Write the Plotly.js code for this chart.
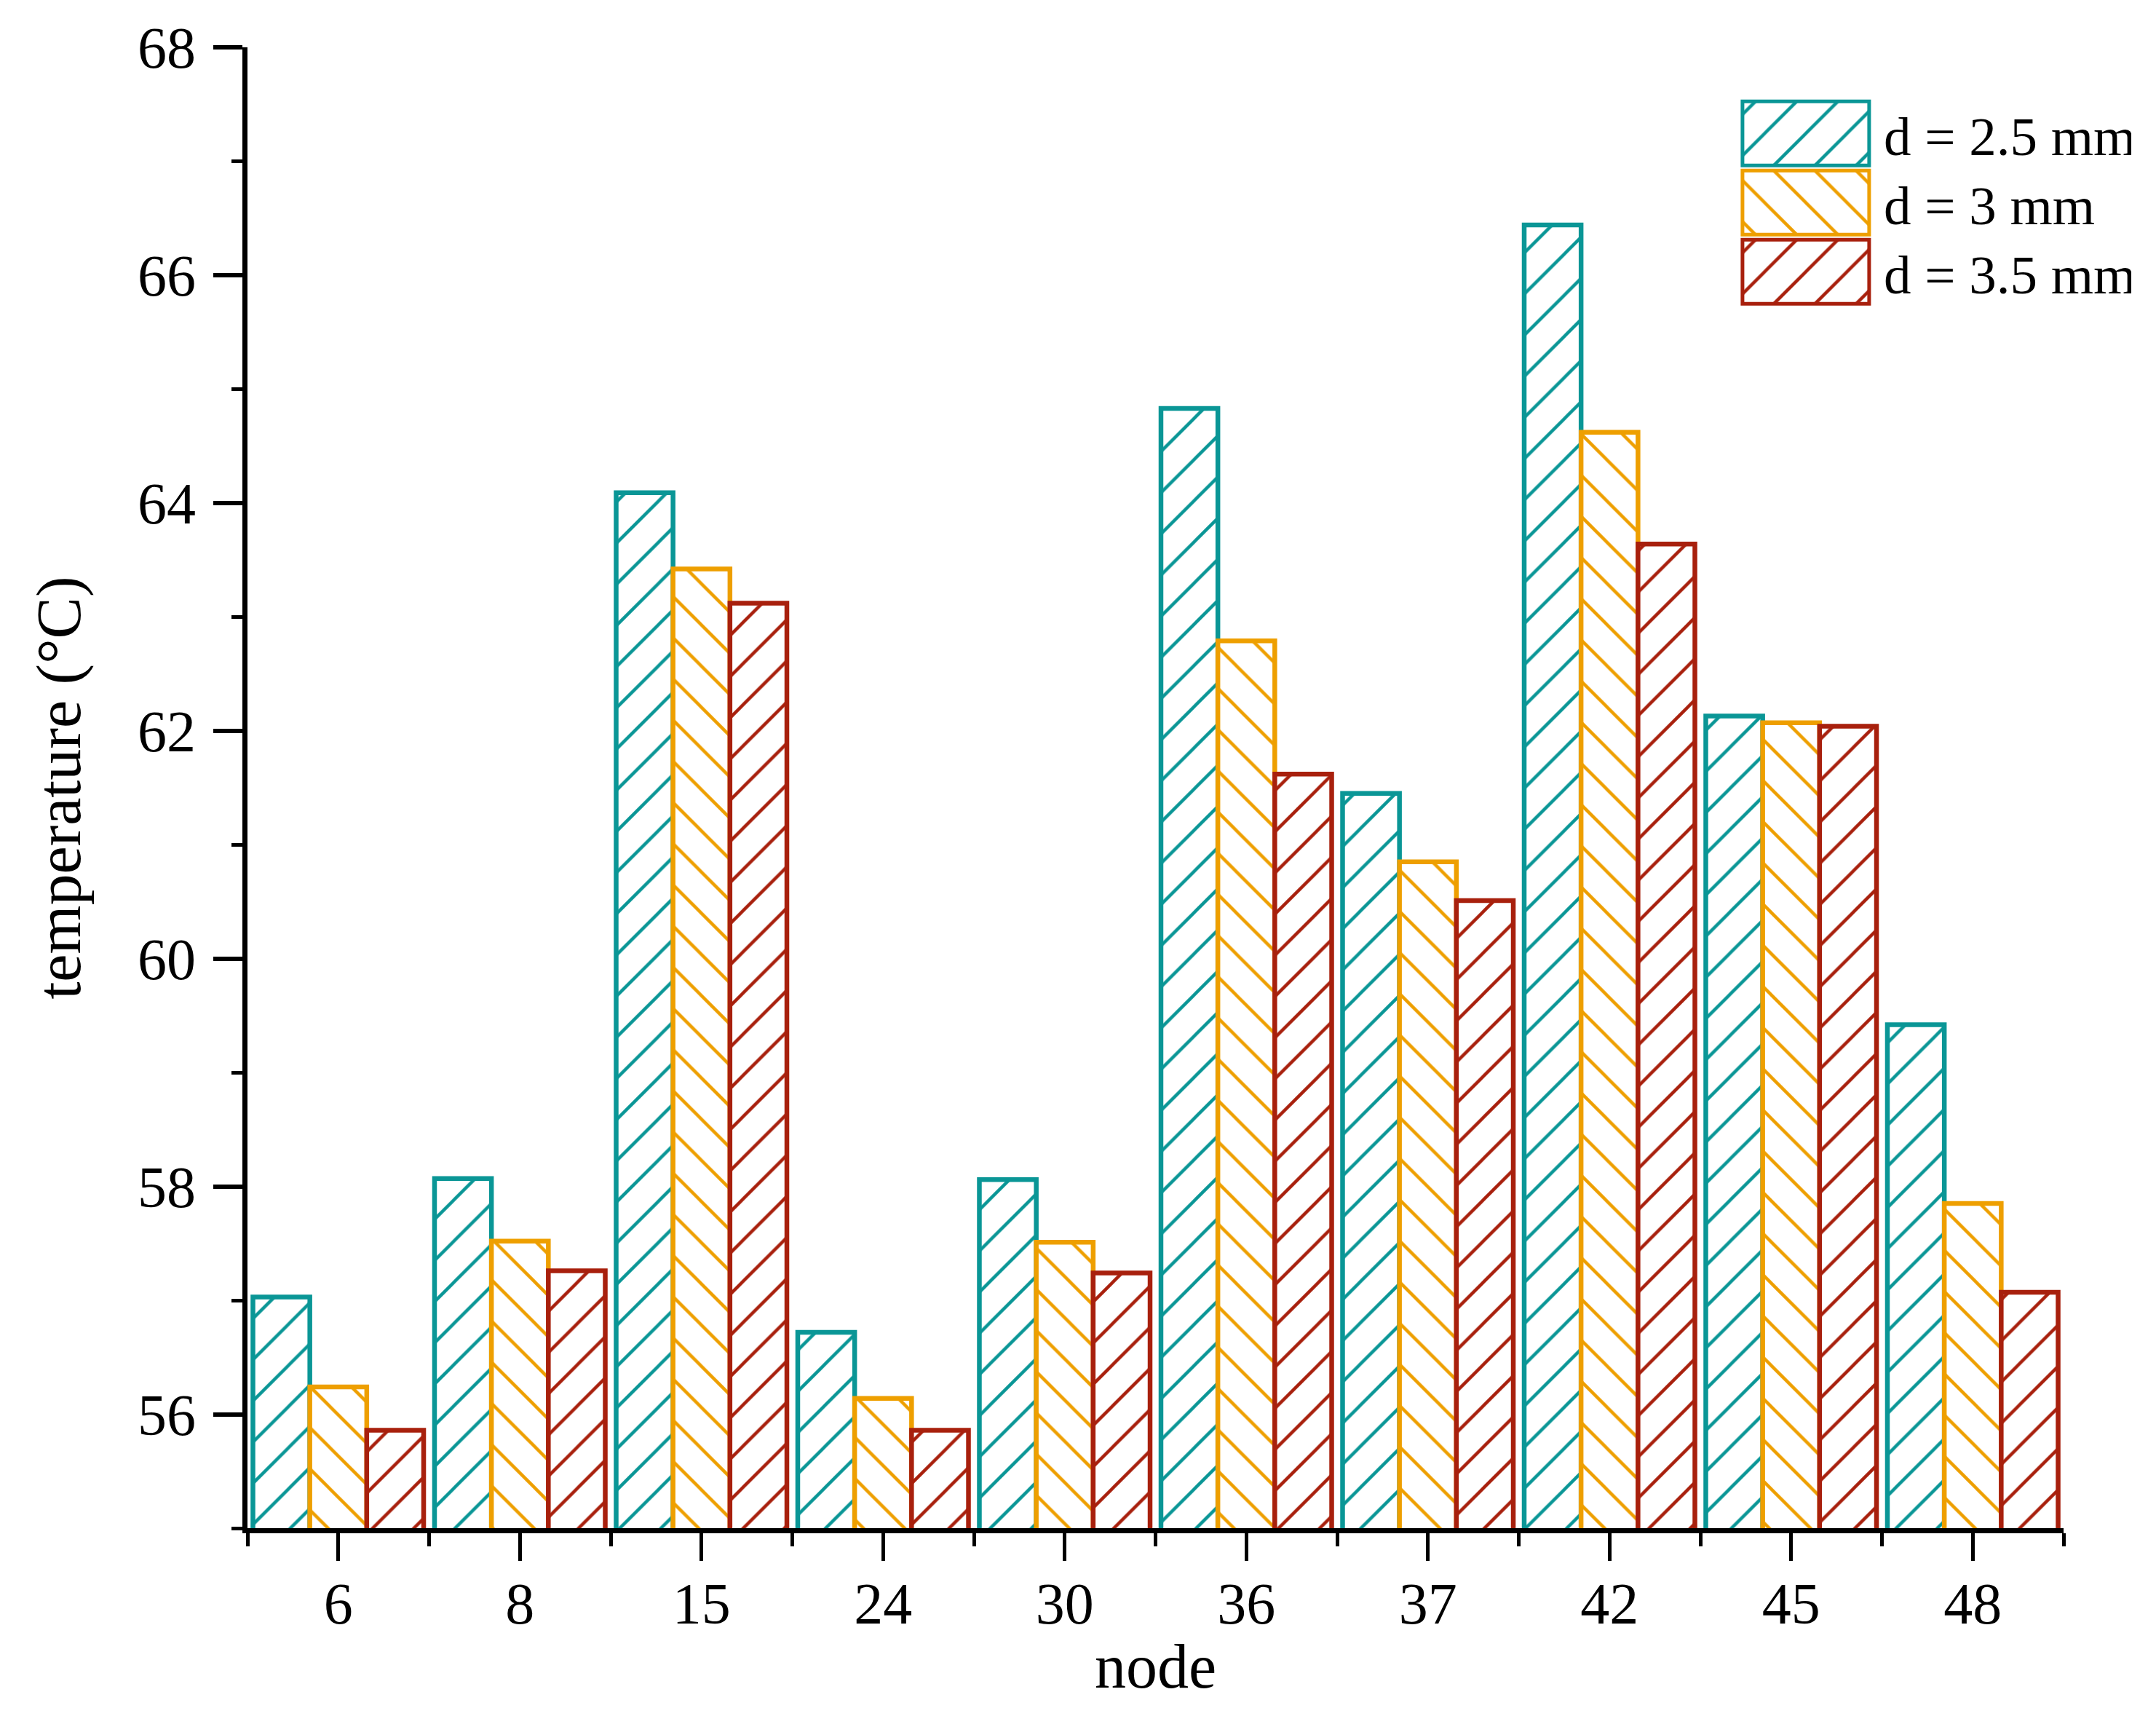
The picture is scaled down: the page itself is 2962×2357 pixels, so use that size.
<!DOCTYPE html>
<html>
<head>
<meta charset="utf-8">
<script src="https://cdn.plot.ly/plotly-3.0.1.min.js"></script>
<style>
  html, body { margin: 0; padding: 0; background: #fff; }
  #wykres { width: 2962px; height: 2357px; }
</style>
</head>
<body>
<div id="wykres"></div>
<script>
// temperatura w węzłach dla trzech średnic
const wezly = ['6', '8', '15', '24', '30', '36', '37', '42', '45', '48'];
const t25 = [57.03, 58.07, 64.09, 56.72, 58.06, 64.83, 61.45, 66.44, 62.13, 59.42];
const t30 = [56.24, 57.52, 63.42, 56.14, 57.51, 62.79, 60.85, 64.62, 62.07, 57.85];
const t35 = [55.86, 57.26, 63.12, 55.86, 57.24, 61.62, 60.51, 63.64, 62.04, 57.07];
const nazwy = ['d = 2.5 mm', 'd = 3 mm', 'd = 3.5 mm'];

const kolory = ['#0A9696', '#EE9F00', '#A8200D'];
const ksztalty = ['/', '\\', '/'];
const FONT = '"Liberation Serif", "Times New Roman", serif';

const pozycje = wezly.map((_, i) => i);

const slady = [t25, t30, t35].map((y, k) => ({
  type: 'bar', x: pozycje, y: y, name: nazwy[k],
  marker: {
    color: 'white',
    line: { color: kolory[k], width: 6.5 },
    pattern: { shape: ksztalty[k], fgcolor: kolory[k], bgcolor: 'white', size: 40, solidity: 0.11, fillmode: 'replace' },
  },
}));

const uklad = {
  width: 2962, height: 2357,
  margin: { l: 340, r: 127, t: 65, b: 258 },
  paper_bgcolor: 'white', plot_bgcolor: 'white',
  barmode: 'group', bargap: 0.06, bargroupgap: 0,
  font: { family: FONT, size: 80, color: 'black' },
  showlegend: true,
  legend: {
    x: 0.82, y: 0.969, xanchor: 'left', yanchor: 'top',
    font: { family: FONT, size: 75, color: 'black' },
    itemwidth: 180, bgcolor: 'rgba(0,0,0,0)', tracegroupgap: 0,
  },
  xaxis: {
    range: [-0.5, 9.5], tickmode: 'array', tickvals: pozycje, ticktext: wezly,
    showline: true, linewidth: 7, linecolor: 'black', mirror: false,
    ticks: 'outside', ticklen: 38, tickwidth: 5, tickcolor: 'black',
    ticklabelstandoff: -10, showgrid: false, zeroline: false,
    minor: { tickmode: 'linear', tick0: -0.5, dtick: 1, ticks: 'outside', ticklen: 18, tickwidth: 5, tickcolor: 'black', showgrid: false },
    title: { text: 'node', font: { family: FONT, size: 86 }, standoff: 14 },
  },
  yaxis: {
    range: [55, 68], dtick: 2, tick0: 56,
    showline: true, linewidth: 7, linecolor: 'black', mirror: false,
    ticks: 'outside', ticklen: 40, tickwidth: 6, tickcolor: 'black',
    ticklabelstandoff: 8, showgrid: false, zeroline: false,
    minor: { dtick: 1, ticks: 'outside', ticklen: 15, tickwidth: 5, tickcolor: 'black', showgrid: false },
    title: { text: 'temperature (°C)', font: { family: FONT, size: 86 }, standoff: 52 },
  },
};

Plotly.newPlot('wykres', slady, uklad, { displayModeBar: false, staticPlot: true }).then(() => {
  // duże prostokąty w legendzie jak w oryginale, z tym samym kreskowaniem co słupki
  const wypelnienia = [...document.querySelectorAll('.barlayer .trace')].map(tr => {
    const p = tr.querySelector('path');
    return p ? p.style.fill : null;
  });
  let y0 = null;
  document.querySelectorAll('.legend .traces').forEach((item, i) => {
    const p = item.querySelector('.legendpoints path');
    if (p) {
      p.setAttribute('d', 'M87,44H-87V-44H87Z');
      if (wypelnienia[i]) p.style.fill = wypelnienia[i];
    }
    const t = item.querySelector('text.legendtext');
    if (t) t.setAttribute('x', String(parseFloat(t.getAttribute('x') || 0) + 12));
    // ciaśniejszy odstęp między wierszami legendy
    const m = /translate\(\s*([-\d.]+)[ ,]+([-\d.]+)\s*\)/.exec(item.getAttribute('transform') || '');
    if (m) {
      if (y0 === null) y0 = parseFloat(m[2]);
      item.setAttribute('transform', `translate(${m[1]},${y0 + i * 95})`);
    }
  });
});
</script>
</body>
</html>
